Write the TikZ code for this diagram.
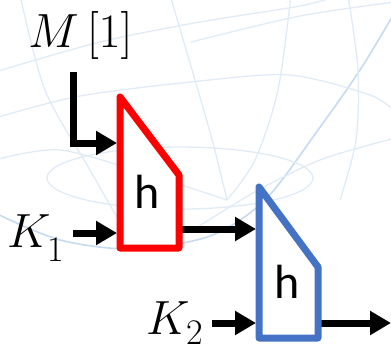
\RequirePackage{fix-cm}
\documentclass[tikz,border=0pt]{standalone}
\usepackage{fontspec}
\newfontfamily\calib{Carlito}
\usetikzlibrary{arrows.meta}
\definecolor{hred}{RGB}{255,0,0}
\definecolor{hblue}{RGB}{68,114,196}
\definecolor{globeA}{RGB}{224,235,246}
\definecolor{globeB}{RGB}{200,218,239}
\newcommand{\subdig}[2]{\raisebox{#1}[\height][0pt]{\fontsize{36}{40}\selectfont #2}}
\begin{document}
\begin{tikzpicture}[x=1pt,y=-1pt,
  hbox/.style={line width=7pt, line join=round, fill=white},
  arr/.style={line width=7pt, line join=miter, -{Triangle[length=21pt,width=23pt]}},
  glabel/.style={inner sep=0pt, font=\fontsize{48}{54}\selectfont},
  hlabel/.style={inner sep=0pt, font=\calib\fontsize{48}{54}\selectfont},
  gl/.style={draw=globeA, line width=1.3pt},
  glo/.style={draw=globeB, line width=1.6pt}]
\useasboundingbox (0,0) rectangle (391,349);
\begin{scope}
\clip (0,0) rectangle (391,349);
\draw[glo] plot[smooth] coordinates {(-5,213) (60,240) (133,249) (210,236) (265,200) (318,130) (360,70) (395,12)};
\draw[gl] (180,178) ellipse [x radius=133, y radius=31];
\draw[gl] plot[smooth] coordinates {(-5,118) (80,96) (200,81) (290,75) (370,95) (395,112)};
\draw[gl] plot[smooth] coordinates {(190,232) (253,193) (320,160) (395,138)};
\draw[gl] plot[smooth] coordinates {(-5,72) (100,42) (200,22) (300,6) (340,-5)};
\draw[gl] plot[smooth] coordinates {(191,42) (300,16) (395,2)};
\draw[gl] plot[smooth] coordinates {(170,-5) (195,80) (213,143) (227,200)};
\draw[gl] plot[smooth] coordinates {(291,-5) (278,90) (255,160) (227,200)};
\draw[gl] plot[smooth] coordinates {(348,-5) (358,70) (356,140) (340,200)};
\draw[gl] plot[smooth] coordinates {(-5,160) (60,150) (150,175) (227,200)};
\draw[gl] plot[smooth] coordinates {(20,-5) (45,90) (90,170) (130,240)};
\end{scope}

% labels
\node[glabel, anchor=base] (M) at (80.5,47) {$M\,[1]$};
\node[glabel, anchor=base west] (K1) at (7,247) {$K$\hspace{-3pt}\subdig{-14pt}{1}};
\node[glabel, anchor=base west] (K2) at (146,334) {$K$\hspace{-3pt}\subdig{-10pt}{2}};

% ports
\coordinate (mtop) at (73,72);
\coordinate (k1s) at (73,233);
\coordinate (k2s) at (212,323);
\coordinate (r1m) at (117,143);
\coordinate (r1k) at (117,233);
\coordinate (r1o) at (182,229);
\coordinate (b1i) at (256,229);
\coordinate (b1k) at (256,323);
\coordinate (b1o) at (321,323);
\coordinate (outend) at (391,323);

% connectors
\draw[arr] (mtop) |- (r1m);
\draw[arr] (k1s) -- (r1k);
\draw[arr] (r1o) -- (b1i);
\draw[arr] (k2s) -- (b1k);
\draw[arr] (b1o) -- (outend);

% blocks
\draw[hbox, draw=hred] (120,97) -- (179,175) -- (179,248) -- (120,248) -- cycle;
\draw[hbox, draw=hblue] (259,187) -- (318,267) -- (318,338) -- (259,338) -- cycle;
\node[hlabel, anchor=base] (h1) at (147,208) {h};
\node[hlabel, anchor=base] (h2) at (287,298) {h};
\end{tikzpicture}
\end{document}
